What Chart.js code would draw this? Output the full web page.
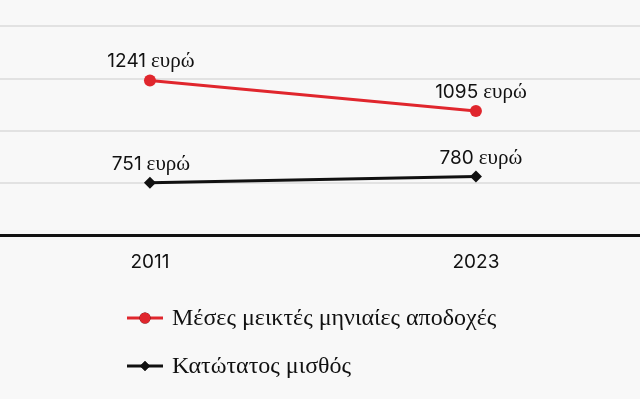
<!DOCTYPE html>
<html>
<head>
<meta charset="utf-8">
<script src="https://cdn.jsdelivr.net/npm/chart.js@4"></script>
<style>
  html, body { margin: 0; padding: 0; background: #f8f8f8; }
  #wrap { width: 640px; height: 399px; }
</style>
</head>
<body>
<div id="wrap"><canvas id="chart_wages"></canvas></div>
<script>
const years = [2011, 2023];
const avgGross = [1241, 1095];
const minWage = [751, 780];
const yTicks = [750, 1000, 1250, 1500];
const seriesNames = ['Μέσες μεικτές μηνιαίες αποδοχές', 'Κατώτατος μισθός'];
const unit = 'ευρώ';

const RED = '#e0262d';
const BLACK = '#111111';

// value labels: number in sans, unit in serif
const valueLabels = {
    id: 'valueLabels',
    afterDatasetsDraw(chart) {
        const ctx = chart.ctx;
        chart.data.datasets.forEach((ds, di) => {
            chart.getDatasetMeta(di).data.forEach((pt, i) => {
                const num = String(ds.data[i].y);
                ctx.save();
                ctx.font = '19px Inter';
                const wNum = ctx.measureText(num).width;
                ctx.font = '21px "Liberation Serif"';
                const wUnit = ctx.measureText(unit).width;
                const total = wNum + 5 + wUnit;
                const x0 = pt.x - total / 2 + (i === 0 ? 1 : 5);
                const y0 = pt.y - 13;
                ctx.fillStyle = BLACK;
                ctx.textBaseline = 'alphabetic';
                ctx.textAlign = 'left';
                ctx.font = '19px Inter';
                ctx.fillText(num, x0, y0);
                ctx.font = '21px "Liberation Serif"';
                ctx.fillText(unit, x0 + wNum + 5, y0);
                ctx.restore();
            });
        });
    }
};

// legend: line + marker + serif text, stacked
const stackedLegend = {
    id: 'stackedLegend',
    afterDraw(chart) {
        const ctx = chart.ctx;
        const rows = [318, 366];
        chart.data.datasets.forEach((ds, di) => {
            const y = rows[di];
            ctx.save();
            ctx.strokeStyle = ds.borderColor;
            ctx.lineWidth = 3;
            ctx.beginPath();
            ctx.moveTo(127, y);
            ctx.lineTo(163, y);
            ctx.stroke();
            Chart.helpers.drawPoint(ctx, {
                pointStyle: ds.pointStyle,
                radius: di === 0 ? 5.5 : 5,
                borderWidth: 0
            }, 145, y);
            ctx.fillStyle = ds.borderColor;
            ctx.fill();
            ctx.fillStyle = BLACK;
            ctx.font = '24px "Liberation Serif"';
            ctx.textBaseline = 'alphabetic';
            ctx.fillText(seriesNames[di], 172, y + 7);
            ctx.restore();
        });
    }
};

const ctx = document.querySelector('#chart_wages').getContext('2d');
const chart = new Chart(ctx, {
    type: 'line',
    data: {
        datasets: [{
            label: seriesNames[0],
            data: years.map((x, i) => ({ x: x, y: avgGross[i] })),
            borderColor: RED,
            backgroundColor: RED,
            borderWidth: 3,
            pointStyle: 'circle',
            pointRadius: 6,
            pointBorderWidth: 0
        }, {
            label: seriesNames[1],
            data: years.map((x, i) => ({ x: x, y: minWage[i] })),
            borderColor: BLACK,
            backgroundColor: BLACK,
            borderWidth: 3,
            pointStyle: 'rectRot',
            pointRadius: 6,
            pointBorderWidth: 0
        }]
    },
    options: {
        responsive: true,
        maintainAspectRatio: false,
        animation: false,
        layout: { padding: 0, autoPadding: false },
        scales: {
            x: {
                type: 'linear',
                min: 2005.48,
                max: 2029.04,
                afterBuildTicks: s => { s.ticks = years.map(v => ({ value: v })); },
                afterFit: s => { s.height = 164; },
                grid: { display: false, drawTicks: false },
                border: { display: true, color: BLACK, width: 3 },
                ticks: {
                    padding: 16,
                    color: BLACK,
                    font: { family: 'Inter', size: 19 },
                    maxRotation: 0,
                    callback: v => String(v)
                }
            },
            y: {
                min: 500,
                max: 1627,
                afterBuildTicks: s => { s.ticks = yTicks.map(v => ({ value: v })); },
                afterFit: s => { s.width = 0; },
                grid: { color: '#e2e2e2', lineWidth: 2, drawTicks: false },
                border: { display: false },
                ticks: { display: false }
            }
        },
        plugins: {
            legend: { display: false },
            tooltip: { enabled: false }
        }
    },
    plugins: [valueLabels, stackedLegend]
});
</script>
</body>
</html>
